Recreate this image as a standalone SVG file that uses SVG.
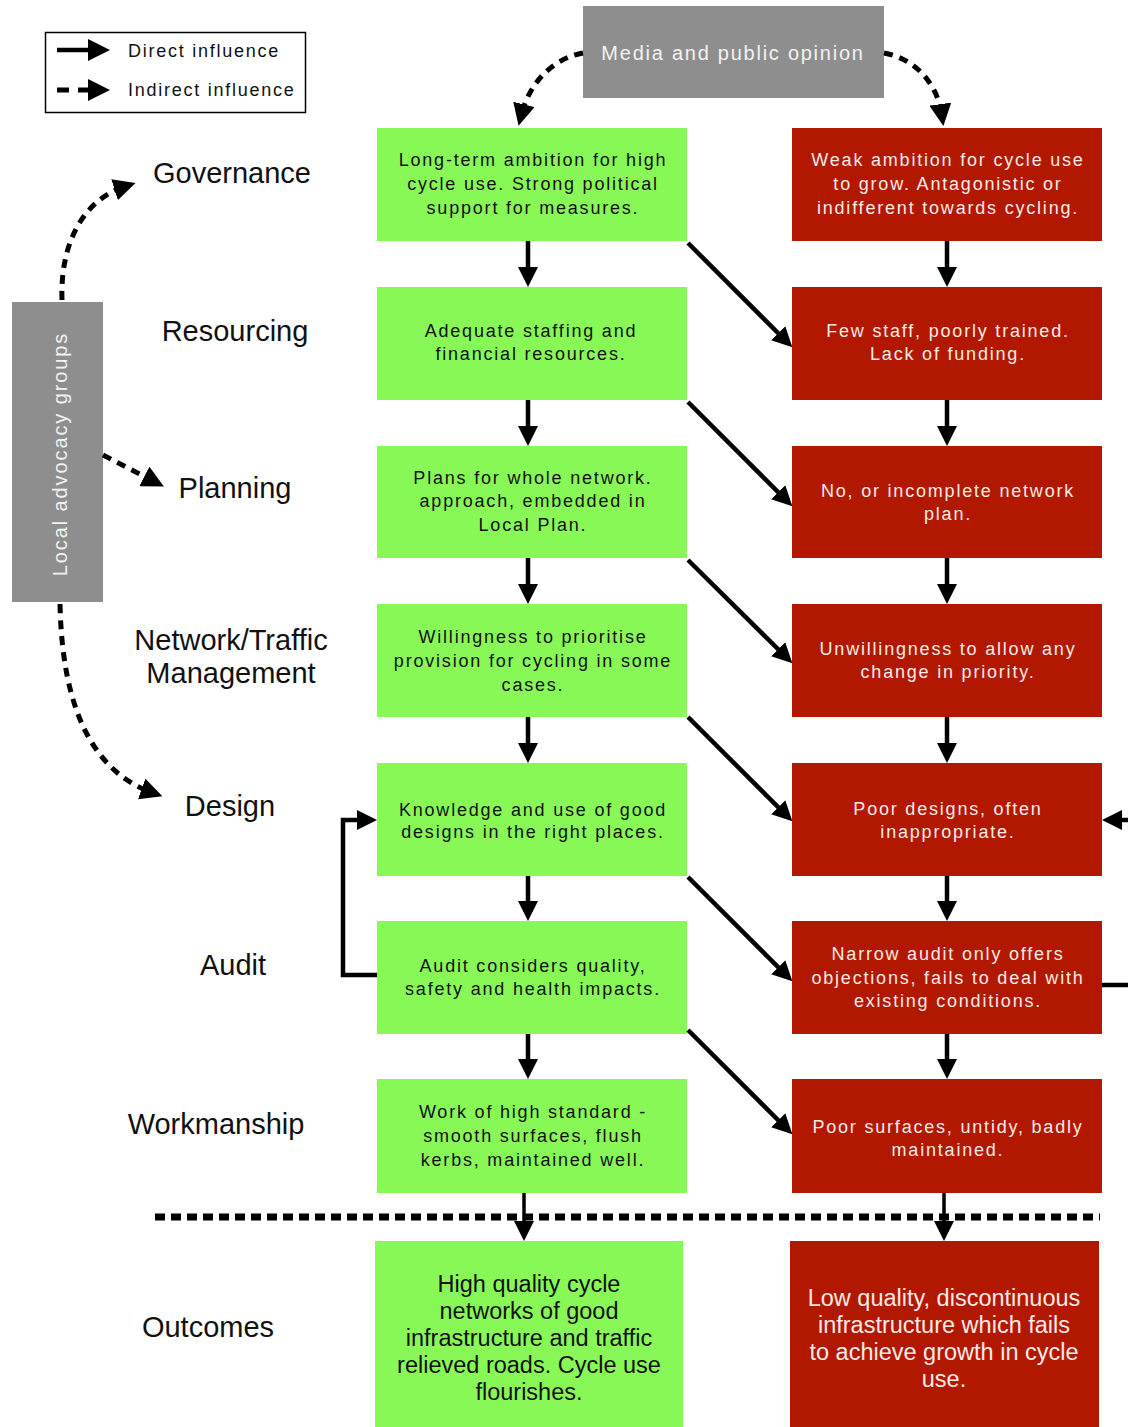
<svg xmlns="http://www.w3.org/2000/svg" width="1128" height="1427" viewBox="0 0 1128 1427">
<style>
.g{fill:#88F857}
.r{fill:#B21800}
.gr{fill:#8E8E8E}
.tg{font-family:"Liberation Sans",Arial,sans-serif;font-size:18px;fill:#111;text-anchor:middle;letter-spacing:1.8px}
.tr{font-family:"Liberation Sans",Arial,sans-serif;font-size:18px;fill:#FBEAE6;text-anchor:middle;letter-spacing:1.8px}
.to{font-family:"Liberation Sans",Arial,sans-serif;font-size:23.5px;text-anchor:middle}
.lab{font-family:"Liberation Sans",Arial,sans-serif;font-size:29px;fill:#111;text-anchor:middle}
.leg{font-family:"Liberation Sans",Arial,sans-serif;font-size:18px;fill:#111;letter-spacing:1.75px}
.s{fill:none;stroke:#000;stroke-width:4.5;marker-end:url(#ah)}
.d{fill:none;stroke:#000;stroke-width:5;stroke-dasharray:9,7;marker-end:url(#ahd)}
</style>
<defs>
<marker id="ah" markerUnits="userSpaceOnUse" viewBox="0 0 20 20" markerWidth="20" markerHeight="20" refX="11" refY="10" orient="auto"><path d="M0,0 L20,10 L0,20 z" fill="#000"/></marker>
<marker id="ahd" markerUnits="userSpaceOnUse" viewBox="0 0 22 22" markerWidth="22" markerHeight="22" refX="12" refY="11" orient="auto"><path d="M0,0 L22,11 L0,22 z" fill="#000"/></marker>
</defs>

<g id="legend">
<rect x="45.5" y="32.5" width="260" height="80" fill="#fff" stroke="#000" stroke-width="1.5"/>
<path d="M57,50 H100" class="s" style="marker-end:url(#ahd)"/>
<path d="M57,90 H100" class="s" style="stroke-dasharray:12,9;stroke-width:5;marker-end:url(#ahd)"/>
<text x="128" y="57" class="leg">Direct influence</text>
<text x="128" y="96" class="leg">Indirect influence</text>
</g>

<g id="media">
<rect x="583" y="6" width="301" height="92" class="gr"/>
<text x="733" y="60" class="to" style="font-size:20px;fill:#F2F2F2;letter-spacing:1.75px">Media and public opinion</text>
</g>

<g id="advocacy">
<rect x="12" y="302" width="91" height="300" class="gr"/>
<text transform="translate(67,454) rotate(-90)" class="to" style="font-size:20px;fill:#F2F2F2;letter-spacing:1.9px">Local advocacy groups</text>
</g>

<g id="labels">
<text x="232" y="183" class="lab">Governance</text>
<text x="235" y="341" class="lab">Resourcing</text>
<text x="235" y="498" class="lab">Planning</text>
<text x="231" y="650" class="lab">Network/Traffic</text>
<text x="231" y="683" class="lab">Management</text>
<text x="230" y="816" class="lab">Design</text>
<text x="233" y="975" class="lab">Audit</text>
<text x="216" y="1134" class="lab">Workmanship</text>
<text x="208" y="1337" class="lab">Outcomes</text>
</g>

<g id="green1"><rect x="377" y="128" width="310" height="113" class="g"/>
<text class="tg"><tspan x="533" y="166">Long-term ambition for high</tspan><tspan x="533" y="190">cycle use. Strong political</tspan><tspan x="533" y="214">support for measures.</tspan></text></g>
<g id="green2"><rect x="377" y="287" width="310" height="113" class="g"/>
<text class="tg"><tspan x="531" y="337">Adequate staffing and</tspan><tspan x="531" y="360">financial resources.</tspan></text></g>
<g id="green3"><rect x="377" y="446" width="310" height="112" class="g"/>
<text class="tg"><tspan x="533" y="484">Plans for whole network.</tspan><tspan x="533" y="507">approach, embedded in</tspan><tspan x="533" y="531">Local Plan.</tspan></text></g>
<g id="green4"><rect x="377" y="604" width="310" height="113" class="g"/>
<text class="tg"><tspan x="533" y="643">Willingness to prioritise</tspan><tspan x="533" y="667">provision for cycling in some</tspan><tspan x="533" y="691">cases.</tspan></text></g>
<g id="green5"><rect x="377" y="763" width="310" height="113" class="g"/>
<text class="tg"><tspan x="533" y="816">Knowledge and use of good</tspan><tspan x="533" y="838">designs in the right places.</tspan></text></g>
<g id="green6"><rect x="377" y="921" width="310" height="113" class="g"/>
<text class="tg"><tspan x="533" y="972">Audit considers quality,</tspan><tspan x="533" y="995">safety and health impacts.</tspan></text></g>
<g id="green7"><rect x="377" y="1079" width="310" height="114" class="g"/>
<text class="tg"><tspan x="533" y="1118">Work of high standard -</tspan><tspan x="533" y="1142">smooth surfaces, flush</tspan><tspan x="533" y="1166">kerbs, maintained well.</tspan></text></g>
<g id="green-outcome"><rect x="375" y="1241" width="308" height="186" class="g"/>
<text class="to" style="fill:#111"><tspan x="529" y="1292">High quality cycle</tspan><tspan x="529" y="1319">networks of good</tspan><tspan x="529" y="1346">infrastructure and traffic</tspan><tspan x="529" y="1373">relieved roads. Cycle use</tspan><tspan x="529" y="1400">flourishes.</tspan></text></g>

<g id="red1"><rect x="792" y="128" width="310" height="113" class="r"/>
<text class="tr"><tspan x="948" y="166">Weak ambition for cycle use</tspan><tspan x="948" y="190">to grow. Antagonistic or</tspan><tspan x="948" y="214">indifferent towards cycling.</tspan></text></g>
<g id="red2"><rect x="792" y="287" width="310" height="113" class="r"/>
<text class="tr"><tspan x="948" y="337">Few staff, poorly trained.</tspan><tspan x="948" y="360">Lack of funding.</tspan></text></g>
<g id="red3"><rect x="792" y="446" width="310" height="112" class="r"/>
<text class="tr"><tspan x="948" y="497">No, or incomplete network</tspan><tspan x="948" y="520">plan.</tspan></text></g>
<g id="red4"><rect x="792" y="604" width="310" height="113" class="r"/>
<text class="tr"><tspan x="948" y="655">Unwillingness to allow any</tspan><tspan x="948" y="678">change in priority.</tspan></text></g>
<g id="red5"><rect x="792" y="763" width="310" height="113" class="r"/>
<text class="tr"><tspan x="948" y="815">Poor designs, often</tspan><tspan x="948" y="838">inappropriate.</tspan></text></g>
<g id="red6"><rect x="792" y="921" width="310" height="113" class="r"/>
<text class="tr"><tspan x="948" y="960">Narrow audit only offers</tspan><tspan x="948" y="984">objections, fails to deal with</tspan><tspan x="948" y="1007">existing conditions.</tspan></text></g>
<g id="red7"><rect x="792" y="1079" width="310" height="114" class="r"/>
<text class="tr"><tspan x="948" y="1133">Poor surfaces, untidy, badly</tspan><tspan x="948" y="1156">maintained.</tspan></text></g>
<g id="red-outcome"><rect x="790" y="1241" width="309" height="186" class="r"/>
<text class="to" style="fill:#FBEAE6"><tspan x="944" y="1306">Low quality, discontinuous</tspan><tspan x="944" y="1333">infrastructure which fails</tspan><tspan x="944" y="1360">to achieve growth in cycle</tspan><tspan x="944" y="1387">use.</tspan></text></g>

<g id="connectors">
<path d="M583,53 C555,58 530,80 521,116" class="d"/>
<path d="M884,53 C912,58 937,80 942,116" class="d"/>
<path d="M62,300 C60,245 82,200 126,186" class="d"/>
<path d="M103,455 L155,482" class="d"/>
<path d="M60,604 C62,700 88,770 153,793" class="d"/>

<path d="M528,241 V278" class="s"/>
<path d="M528,400 V437" class="s"/>
<path d="M528,558 V595" class="s"/>
<path d="M528,717 V754" class="s"/>
<path d="M528,876 V912" class="s"/>
<path d="M528,1034 V1070" class="s"/>
<path d="M947,241 V278" class="s"/>
<path d="M947,400 V437" class="s"/>
<path d="M947,558 V595" class="s"/>
<path d="M947,717 V754" class="s"/>
<path d="M947,876 V912" class="s"/>
<path d="M947,1034 V1070" class="s"/>

<path d="M688,243 L786,341" class="s"/>
<path d="M688,402 L786,500" class="s"/>
<path d="M688,560 L786,657" class="s"/>
<path d="M688,717 L786,815" class="s"/>
<path d="M688,877 L786,975" class="s"/>
<path d="M688,1030 L786,1128" class="s"/>

<path d="M377,975 H343 V820 H368" class="s"/>
<path d="M1102,985 H1128" fill="none" stroke="#000" stroke-width="4.5"/>
<path d="M1130,820 H1111" class="s"/>

<path d="M155,1217 H1100" fill="none" stroke="#000" stroke-width="7" stroke-dasharray="10,6"/>
<path d="M524,1193 V1232" class="s" style="stroke-width:3.5"/>
<path d="M944,1193 V1232" class="s" style="stroke-width:3.5"/>
</g>
</svg>
